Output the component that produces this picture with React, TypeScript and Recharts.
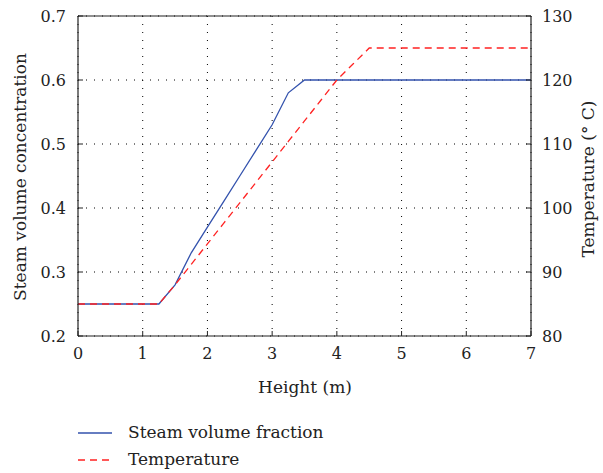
import React from "react";
import {
  LineChart,
  Line,
  XAxis,
  YAxis,
  CartesianGrid,
  ReferenceLine,
  Legend,
  Label,
} from "recharts";

const heights = [0, 1.25, 1.5, 1.75, 2, 2.25, 2.5, 2.75, 3, 3.25, 3.5, 3.75, 4, 4.25, 4.5, 7];
const steamFraction = [0.25, 0.25, 0.28, 0.33, 0.37, 0.41, 0.45, 0.49, 0.53, 0.58, 0.6, 0.6, 0.6, 0.6, 0.6, 0.6];
const temperature = [85, 85, 88, 91.2, 94.4, 97.6, 100.8, 104, 107.2, 110.4, 113.6, 116.8, 120, 122.5, 125, 125];

const xTicks = [0, 1, 2, 3, 4, 5, 6, 7];
const leftTicks = [0.2, 0.3, 0.4, 0.5, 0.6, 0.7];
const rightTicks = [80, 90, 100, 110, 120, 130];

const seriesNames = ["Steam volume fraction", "Temperature"];

const data = heights.map((h, i) => ({
  h,
  steam: steamFraction[i],
  temp: temperature[i],
}));

const FONT = "DejaVu Serif";
const TEXT = "#222";
const BLUE = "#3352ad";
const RED = "#ff2222";
const TICK_FS = 16;
const LABEL_FS = 17;
const TICK_LEN = 5;
const MARGIN_X = 10;
const MARGIN_LEFT = 12;
const MARGIN_RIGHT = 11;

const BottomTick = (props: any) => {
  const { x, y, payload } = props;
  const axisY = y - MARGIN_X;
  return (
    <g>
      <line x1={x} x2={x} y1={axisY} y2={axisY - TICK_LEN} stroke={TEXT} strokeWidth={1} />
      <text x={x} y={y} dy="0.8em" textAnchor="middle" fontFamily={FONT} fontSize={TICK_FS} fill={TEXT}>
        {payload.value}
      </text>
    </g>
  );
};

const TopTick = (props: any) => {
  const { x, y } = props;
  return <line x1={x} x2={x} y1={y} y2={y + TICK_LEN} stroke={TEXT} strokeWidth={1} />;
};

const LeftTick = (props: any) => {
  const { x, y, payload } = props;
  const axisX = x + MARGIN_LEFT;
  return (
    <g>
      <line x1={axisX} x2={axisX + TICK_LEN} y1={y} y2={y} stroke={TEXT} strokeWidth={1} />
      <text x={x} y={y} dy="0.36em" textAnchor="end" fontFamily={FONT} fontSize={TICK_FS} fill={TEXT}>
        {Number(payload.value).toFixed(1)}
      </text>
    </g>
  );
};

const RightTick = (props: any) => {
  const { x, y, payload } = props;
  const axisX = x - MARGIN_RIGHT;
  return (
    <g>
      <line x1={axisX} x2={axisX - TICK_LEN} y1={y} y2={y} stroke={TEXT} strokeWidth={1} />
      <text x={x} y={y} dy="0.36em" textAnchor="start" fontFamily={FONT} fontSize={TICK_FS} fill={TEXT}>
        {payload.value}
      </text>
    </g>
  );
};

const LegendContent = () => (
  <div style={{ fontFamily: FONT, fontSize: LABEL_FS, color: TEXT, paddingLeft: 78, height: 54 }}>
    {seriesNames.map((name, i) => (
      <div key={name} style={{ display: "flex", alignItems: "center", height: 27 }}>
        <svg width={50} height={10} style={{ display: "block" }}>
          <line
            x1={0}
            x2={34}
            y1={5}
            y2={5}
            stroke={i === 0 ? BLUE : RED}
            strokeWidth={1.3}
            strokeDasharray={i === 0 ? undefined : "7 5"}
          />
        </svg>
        <span style={{ lineHeight: "27px", fontFamily: FONT }}>{name}</span>
      </div>
    ))}
  </div>
);

export default function App() {
  return (
    <div style={{ position: "absolute", left: 0, top: 0, width: 603, height: 473, background: "#fff", fontFamily: FONT }}>
      <LineChart
        width={603}
        height={473}
        data={data}
        margin={{ top: 16, right: 0, bottom: 0, left: 0 }}
        style={{ fontFamily: FONT }}
      >
        <CartesianGrid
          yAxisId="left"
          stroke="#000"
          strokeDasharray="1 7"
          strokeWidth={1}
        />
        <XAxis
          dataKey="h"
          type="number"
          domain={[0, 7]}
          ticks={xTicks}
          height={83}
          tickLine={false}
          tickSize={0}
          tickMargin={MARGIN_X}
          axisLine={{ stroke: TEXT, strokeWidth: 1.2 }}
          tick={<BottomTick />}
        >
          <Label
            content={() => (
              <text x={305} y={393} textAnchor="middle" fontFamily={FONT} fontSize={LABEL_FS} fill={TEXT}>
                Height (m)
              </text>
            )}
          />
        </XAxis>
        <XAxis
          xAxisId="top"
          orientation="top"
          dataKey="h"
          type="number"
          domain={[0, 7]}
          ticks={xTicks}
          height={0}
          tickLine={false}
          tickSize={0}
          tickMargin={0}
          axisLine={{ stroke: TEXT, strokeWidth: 1.2 }}
          tick={<TopTick />}
        />
        <YAxis
          yAxisId="left"
          domain={[0.2, 0.7]}
          ticks={leftTicks}
          width={78}
          tickLine={false}
          tickSize={0}
          tickMargin={MARGIN_LEFT}
          axisLine={{ stroke: TEXT, strokeWidth: 1.2 }}
          tick={<LeftTick />}
        >
          <Label
            content={() => (
              <text
                x={26}
                y={177}
                transform="rotate(-90 26 177)"
                textAnchor="middle"
                fontFamily={FONT}
                fontSize={LABEL_FS}
                fill={TEXT}
              >
                Steam volume concentration
              </text>
            )}
          />
        </YAxis>
        <YAxis
          yAxisId="right"
          orientation="right"
          domain={[80, 130]}
          ticks={rightTicks}
          width={72}
          tickLine={false}
          tickSize={0}
          tickMargin={MARGIN_RIGHT}
          axisLine={{ stroke: TEXT, strokeWidth: 1.2 }}
          tick={<RightTick />}
        >
          <Label
            content={() => (
              <text
                x={594}
                y={179}
                transform="rotate(-90 594 179)"
                textAnchor="middle"
                fontFamily={FONT}
                fontSize={LABEL_FS}
                fill={TEXT}
              >
                Temperature (° C)
              </text>
            )}
          />
        </YAxis>
        <ReferenceLine yAxisId="left" y={0.7} stroke={TEXT} strokeWidth={1.2} />
        <Line
          yAxisId="left"
          type="linear"
          dataKey="steam"
          name={seriesNames[0]}
          stroke={BLUE}
          strokeWidth={1.3}
          dot={false}
          isAnimationActive={false}
        />
        <Line
          yAxisId="right"
          type="linear"
          dataKey="temp"
          name={seriesNames[1]}
          stroke={RED}
          strokeWidth={1.3}
          strokeDasharray="7 5"
          dot={false}
          isAnimationActive={false}
        />
        <Legend verticalAlign="bottom" align="left" height={54} content={<LegendContent />} />
      </LineChart>
    </div>
  );
}
